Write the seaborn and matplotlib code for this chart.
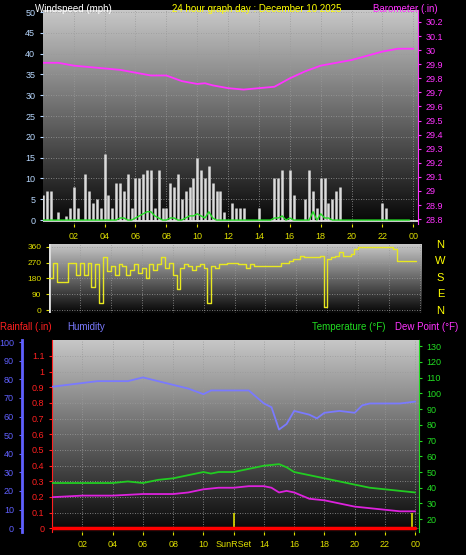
import numpy as np
import pandas as pd
import matplotlib
matplotlib.use("Agg")
import matplotlib.pyplot as plt
import seaborn as sns

sns.set_style("dark")
plt.rcParams['font.family'] = ['Liberation Sans', 'DejaVu Sans']

# ---------------- data ----------------
hours_q = [i * 0.25 for i in range(96)]
gust = [6,7,7,0, 2,0,1,3, 8,3,0,11, 7,4,5,3, 16,6,3,9, 9,7,11,3, 10,10,11,12,
        12,3,12,3, 3,9,8,11, 5,7,8,10, 15,12,10,13, 9,7,7,2, 0,4,3,3, 3,0,0,0,
        3,0,0,0, 10,10,12,0, 12,6,0,0, 5,12,7,3, 10,10,4,5, 7,8,0,0, 0,0,0,0,
        0,0,0,0, 4,3,0,0, 0,0,0,0]
avg_wind = [0,0,0,0, 0,0,0,0, 0,0,0,0, 0,0,0,0, 0,0,0,0, 0.5,0.5,0,0, 0.5,1,1.5,2,
            2,1,0.5,0, 0,0.5,0.5,0, 0,0.5,1,1, 1.5,1,0.5,2, 0.5,0,0,0, 0,0,0,0, 0,0,0,0,
            0,0,0,0, 0.5,0.5,1,0, 0.5,0,0,0, 0,0,2,0, 1.5,0.5,0.5,0, 0,0,0,0, 0,0,0,0,
            0,0,0,0, 0,0,0,0, 0,0,0,0]
wind_dir = [180,270,160,160, 160,270,270,200, 270,200,270,130, 260,40,300,220,
            250,200,260,250, 200,230,260,210, 240,180,260,230, 260,300,240,270,
            200,120,240,260, 250,230,250,260, 240,40,250,240, 260,260,270,270,
            270,260,260,240, 260,250,250,250, 250,250,250,250, 270,270,280,290,
            290,310,300,300, 300,300,310,20, 290,300,310,330, 310,310,320,350,
            360,360,360,360, 360,360,360,360, 360,350,280,280, 280,280,280,280]

baro_h = [0,1,2,3,4,5,6,7,8,9,10,10.5,11,12,13,14,15,16,17,18,19,20,21,22,23,24]
baro = [29.91,29.91,29.89,29.88,29.87,29.86,29.84,29.82,29.82,29.78,29.76,29.765,29.75,
        29.73,29.72,29.73,29.74,29.80,29.85,29.89,29.91,29.93,29.96,29.99,30.01,30.01]

hum_h = [0,1,2,3,4,5,6,7,8,9,10,10.5,11,12,13,14,14.5,15,15.5,16,17,17.5,18,19,20,20.5,21,22,23,24]
hum = [76,77,78,79,79,79,81,79,77,75,72,74,74,74,74,67,65,53,56,63,61,59,62,63,62,66,67,67,67,68]

temp_h = [0,2,4,5,6,7,8,9,10,10.5,11,12,13,14,15,15.5,16,17,18,19,20,21,22,23,24]
temp = [43,43,43,44,43,45,46,48,50,49,50,50,52,54,55,53,50,48,46,44,42,40,39,38,37]

dew_h = [0,2,4,6,8,9,10,11,12,13,14,14.5,15,15.5,16,17,18,19,20,21,22,23,24]
dew = [34,35,35,36,36,37,39,40,40,41,41,40,37,38,37,33,32,30,28,27,26,25,25]

rain_h = [0, 24]
rain = [0, 0]
sun_events = [12.0, 23.8]

xt = list(range(2, 25, 2))
xt_labels = ["02","04","06","08","10","SunRSet","14","16","18","20","22","00"]
xt_labels_top = ["02","04","06","08","10","12","14","16","18","20","22","00"]
compass = ["N", "W", "S", "E", "N"]

# ---------------- figure ----------------
fig = plt.figure(figsize=(4.66, 5.55), dpi=100, facecolor="black")
grad = np.linspace(0, 1, 256).reshape(-1, 1)
cmap = matplotlib.colors.LinearSegmentedColormap.from_list("g", ["#050505", "#c8c8c8"])
FS = 6.5

def style(ax):
    ax.set_facecolor("black")
    ax.imshow(grad, aspect="auto", cmap=cmap, origin="lower",
              extent=[0, 1, 0, 1], transform=ax.transAxes, zorder=0)
    ax.grid(True, color="#9a9a9a", linestyle=(0, (1, 2)), linewidth=0.6, zorder=1)
    for s in ax.spines.values():
        s.set_visible(False)

# --- top panel ---
ax1 = fig.add_axes([0.092, 0.596, 0.805, 0.386])
style(ax1)
ax1.set_xlim(0, 24.3)
ax1.set_ylim(-1, 50.5)
ax1.vlines(hours_q, 0, gust, color="#dcdcdc", linewidth=1.8, zorder=2)
sns.lineplot(x=hours_q, y=avg_wind, ax=ax1, color="#22dd22", linewidth=1.0, zorder=3)
ax1.axhline(-0.3, color="#f0f0f0", linewidth=1.2, zorder=2)
ax1.set_yticks(range(0, 51, 5))
ax1.set_xticks(xt)
ax1.set_xticklabels(xt_labels_top)
ax1.tick_params(axis="y", colors="#b8d8ff", labelsize=FS, length=2, left=True)
ax1.tick_params(axis="x", colors="#e0e000", labelsize=FS, length=2, bottom=True)
ax1b = ax1.twinx()
ax1b.set_ylim(28.764, 30.285)
sns.lineplot(x=baro_h, y=baro, ax=ax1b, color="#ff33ff", linewidth=1.3)
bt = np.round(np.arange(28.8, 30.21, 0.1), 1)
ax1b.set_yticks(bt)
ax1b.set_yticklabels([f"{v:g}" for v in bt])
ax1b.tick_params(axis="y", colors="#ff33ff", labelsize=FS, length=2, right=True)
for s in ax1b.spines.values():
    s.set_visible(False)
ax1b.spines["right"].set_visible(True)
ax1b.spines["right"].set_color("#ff33ff")
ax1b.grid(False)
ax1b.set_ylabel("")
fig.text(0.075, 0.992, "Windspeed (mph)", color="white", fontsize=7, va="top", ha="left")
fig.text(0.37, 0.992, "24 hour graph day : December 10 2025", color="#ffff00", fontsize=7, va="top", ha="left")
fig.text(0.80, 0.992, "Barometer (.in)", color="#ff33ff", fontsize=7, va="top", ha="left")

# --- middle panel ---
ax2 = fig.add_axes([0.105, 0.436, 0.80, 0.124])
style(ax2)
ax2.set_xlim(0, 24.1)
ax2.set_ylim(-17, 375)
ax2.step(hours_q, wind_dir, where="post", color="#e8e820", linewidth=1.0, zorder=3)
ax2.set_yticks([0, 90, 180, 270, 360])
ax2.set_xticks(xt)
ax2.set_xticklabels([])
ax2.tick_params(axis="y", colors="#e0e000", labelsize=FS-0.5, length=2, left=True)
ax2.axvline(0, color="#e0e0e0", linewidth=2, zorder=2)
for i, c in enumerate(compass):
    fig.text(0.945, 0.5586 - i * 0.0297, c, color="#ffff00", fontsize=8, va="center", ha="center")

# --- bottom panel ---
ax3 = fig.add_axes([0.112, 0.041, 0.787, 0.346])
style(ax3)
ax3.set_xlim(0, 24.25)
ax3.set_ylim(-0.026, 1.2)
sns.lineplot(x=rain_h, y=rain, ax=ax3, color="#ff0000", linewidth=2.5, zorder=4)
ax3.vlines(sun_events, 0, 0.1, color="#dddd00", linewidth=1.2, zorder=3)
rt = np.round(np.arange(0, 1.11, 0.1), 1)
ax3.set_yticks(rt)
ax3.set_yticklabels([f"{v:g}" for v in rt])
ax3.set_xticks(xt)
ax3.set_xticklabels(xt_labels)
ax3.tick_params(axis="y", colors="#ff2020", labelsize=FS, length=2, left=True)
ax3.tick_params(axis="x", colors="#e0e000", labelsize=FS, length=2, bottom=True)
ax3.spines["left"].set_visible(True)
ax3.spines["left"].set_color("#ff2020")
ax3.spines["left"].set_linestyle((0, (2, 1)))
ax3.set_ylabel("")

ax3h = ax3.twinx()
ax3h.set_ylim(-2.2, 101)
sns.lineplot(x=hum_h, y=hum, ax=ax3h, color="#7a7aff", linewidth=1.3)
ax3h.yaxis.set_label_position("left")
ax3h.yaxis.tick_left()
ax3h.spines["left"].set_position(("outward", 22))
for s in ax3h.spines.values():
    s.set_visible(False)
ax3h.spines["left"].set_visible(True)
ax3h.spines["left"].set_color("#6060ff")
ax3h.spines["left"].set_linewidth(2)
ax3h.set_yticks(range(0, 101, 10))
ax3h.tick_params(axis="y", colors="#6060ff", labelsize=FS, length=2)
ax3h.grid(False)
ax3h.set_ylabel("")

ax3t = ax3.twinx()
ax3t.set_ylim(11.7, 133.8)
sns.lineplot(x=temp_h, y=temp, ax=ax3t, color="#22cc22", linewidth=1.3)
sns.lineplot(x=dew_h, y=dew, ax=ax3t, color="#dd22dd", linewidth=1.3)
ax3t.set_yticks(range(20, 131, 10))
ax3t.tick_params(axis="y", colors="#22dd22", labelsize=FS, length=2, right=True)
for s in ax3t.spines.values():
    s.set_visible(False)
ax3t.spines["right"].set_visible(True)
ax3t.spines["right"].set_color("#22dd22")
ax3t.grid(False)
ax3t.set_ylabel("")

fig.text(0.0, 0.411, "Rainfall (.in)", color="#ff2020", fontsize=7, va="center", ha="left")
fig.text(0.145, 0.411, "Humidity", color="#7a7aff", fontsize=7, va="center", ha="left")
fig.text(0.67, 0.411, "Temperature (°F)", color="#22dd22", fontsize=7, va="center", ha="left")
fig.text(0.848, 0.411, "Dew Point (°F)", color="#ff33ff", fontsize=7, va="center", ha="left")

fig.savefig("out.png", dpi=100, facecolor="black")
